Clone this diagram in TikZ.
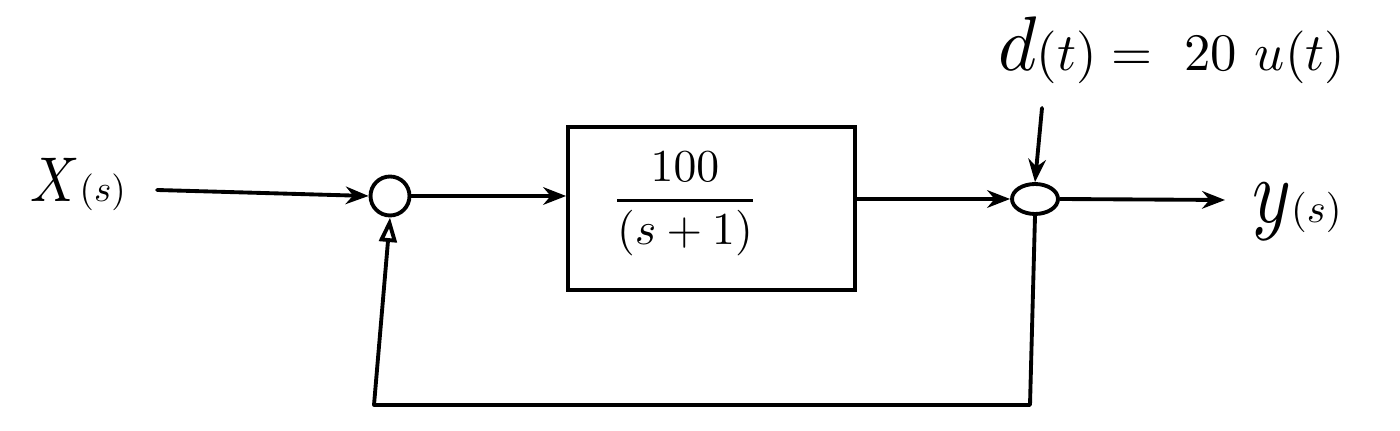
\documentclass[tikz,border=0pt]{standalone}
\usepackage{amsmath}
\usepackage{graphicx}
\usetikzlibrary{arrows.meta,shapes.geometric}
\begin{document}
\begin{tikzpicture}[x=0.02cm,y=-0.02cm,
  wire/.style={line width=2.2pt,line cap=round,line join=round},
  arr/.style={wire,-{Stealth[length=13pt,width=10pt]}},
  fbarr/.style={wire,-{Triangle[open,length=14pt,width=10pt]}},
  sumc/.style={draw,circle,line width=2.2pt,minimum size=0.78cm,inner sep=0pt},
  sumd/.style={draw,ellipse,line width=2.2pt,minimum width=0.92cm,minimum height=0.6cm,inner sep=0pt},
  blk/.style={draw,line width=2.2pt,minimum width=5.74cm,minimum height=3.26cm,inner sep=0pt}]
\useasboundingbox (0,0) rectangle (1400,431);
% labels
\node[inner sep=0pt,anchor=west] (X) at (30,185) {\scalebox{3.1}[3.6]{$X$}\scalebox{2.1}{$(s)$}};
\node[inner sep=0pt,anchor=west] (d) at (998,50) {\scalebox{4.2}[4.4]{$d$}\scalebox{3.0}{$(t)=\ 20\,\,u(t)$}};
\node[inner sep=0pt,anchor=west] (Y) at (1252,212) {\scalebox{4.2}[5.2]{$y$}\scalebox{2.3}{$(s)$}};
% blocks
\node[sumc] (s1) at (390,196) {};
\node[blk] (G) at (711.5,208.5) {};
\node[inner sep=0pt] (tf) at (685,204) {\scalebox{2.6}{$\genfrac{}{}{0.6pt}{0}{100}{(s+1)}$}};
\node[sumd] (s2) at (1035,199) {};
% free ends
\coordinate (xs) at (157,190);
\coordinate (dtop) at (1042,108);
\coordinate (ye) at (1225,200);
\coordinate (fbR) at (1030,405);
\coordinate (fbL) at (374,405);
% connectors
\draw[arr] (xs) -- (s1.west);
\draw[arr] (s1.east) -- (G.west |- s1.east);
\draw[arr] (G.east |- s2.west) -- (s2.west);
\draw[arr] (dtop) -- (s2.north);
\draw[arr] (s2.east) -- (ye);
\draw[fbarr] (s2.south) -- (fbR) -- (fbL) -- (s1.south);
\end{tikzpicture}
\end{document}
